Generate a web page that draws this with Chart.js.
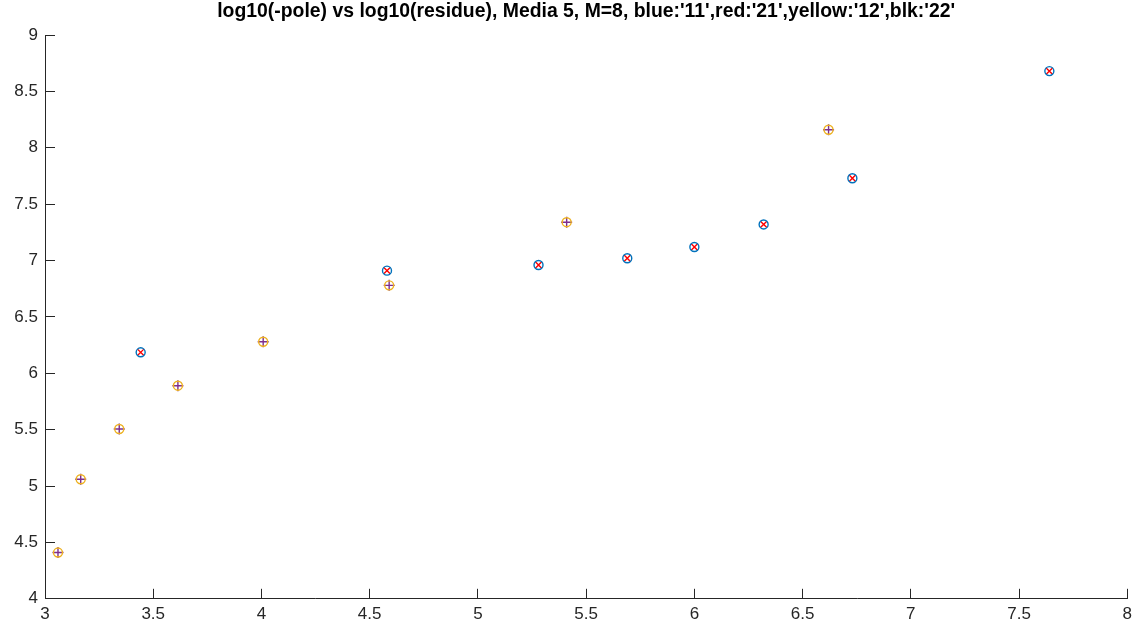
<!DOCTYPE html>
<html>
<head>
<meta charset="utf-8">
<script src="https://cdn.jsdelivr.net/npm/chart.js@4/dist/chart.umd.min.js"></script>
<style>
html,body{margin:0;padding:0;background:#fff;}
#wrap{width:1147px;height:626px;}
</style>
</head>
<body>
<div id="wrap"><canvas id="c" width="1147" height="626"></canvas></div>
<script>
// Series '11' (blue o) and '21' (red x) share positions
const xA = [3.442, 4.58, 5.28, 5.69, 6.00, 6.32, 6.73, 7.64];
const yA = [6.186, 6.91, 6.96, 7.02, 7.12, 7.32, 7.73, 8.68];
// Series '12' (yellow o) and '22' (plus) share positions
const xB = [3.06, 3.165, 3.343, 3.614, 4.008, 4.59, 5.41, 6.62];
const yB = [4.41, 5.06, 5.506, 5.89, 6.28, 6.78, 7.34, 8.16];
const xTicks = [3, 3.5, 4, 4.5, 5, 5.5, 6, 6.5, 7, 7.5, 8];
const yTicks = [4, 4.5, 5, 5.5, 6, 6.5, 7, 7.5, 8, 8.5, 9];
const titleText = "log10(-pole) vs log10(residue), Media 5, M=8, blue:'11',red:'21',yellow:'12',blk:'22'";

const pts = (xs, ys) => xs.map((x, i) => ({x: x, y: ys[i]}));
const axisColor = '#262626';
const tickFont = {family: "'Liberation Sans', Arial, sans-serif", size: 17};

// Title centred over the plot area (as in the reference)
const axesTitle = {
  id: 'axesTitle',
  afterDraw(chart) {
    const ctx = chart.ctx, a = chart.chartArea;
    ctx.save();
    ctx.font = "bold 19.4px 'Liberation Sans', Arial, sans-serif";
    ctx.fillStyle = '#000';
    ctx.textAlign = 'center';
    ctx.textBaseline = 'middle';
    ctx.fillText(titleText, (a.left + a.right) / 2, 12);
    ctx.restore();
  }
};

new Chart(document.getElementById('c'), {
  type: 'scatter',
  data: {
    datasets: [
      {label: '11', data: pts(xA, yA), pointStyle: 'circle', radius: 4.5, borderColor: '#0072BD', backgroundColor: 'rgba(0,0,0,0)', borderWidth: 1.4},
      {label: '21', data: pts(xA, yA), pointStyle: 'crossRot', radius: 4.5, borderColor: '#FF0000', backgroundColor: 'rgba(0,0,0,0)', borderWidth: 1.4},
      {label: '12', data: pts(xB, yB), pointStyle: 'circle', radius: 4.5, borderColor: '#EDB120', backgroundColor: 'rgba(0,0,0,0)', borderWidth: 1.4},
      {label: '22', data: pts(xB, yB), pointStyle: 'cross', radius: 5.5, borderColor: '#7E2F8E', backgroundColor: 'rgba(0,0,0,0)', borderWidth: 1.4}
    ]
  },
  plugins: [axesTitle],
  options: {
    responsive: false,
    animation: false,
    layout: {padding: {left: 0, right: 19, top: 35, bottom: 0}},
    plugins: {
      legend: {display: false},
      tooltip: {enabled: false},
      title: {display: false}
    },
    scales: {
      x: {
        type: 'linear',
        min: 3, max: 8,
        afterBuildTicks: (s) => { s.ticks = xTicks.map(v => ({value: v})); },
        afterFit: (s) => { s.height = 27; },
        grid: {display: true, drawOnChartArea: false, drawTicks: true, tickLength: -10, color: axisColor, lineWidth: 1},
        border: {display: true, color: axisColor, width: 1},
        ticks: {color: axisColor, font: tickFont, padding: 15, maxRotation: 0, autoSkip: false, callback: (v) => String(v)}
      },
      y: {
        type: 'linear',
        min: 4, max: 9,
        afterBuildTicks: (s) => { s.ticks = yTicks.map(v => ({value: v})); },
        afterFit: (s) => { s.width = 45; },
        grid: {display: true, drawOnChartArea: false, drawTicks: true, tickLength: -10, color: axisColor, lineWidth: 1},
        border: {display: true, color: axisColor, width: 1},
        ticks: {color: axisColor, font: tickFont, padding: 17, autoSkip: false, callback: (v) => String(v)}
      }
    }
  }
});
</script>
</body>
</html>
